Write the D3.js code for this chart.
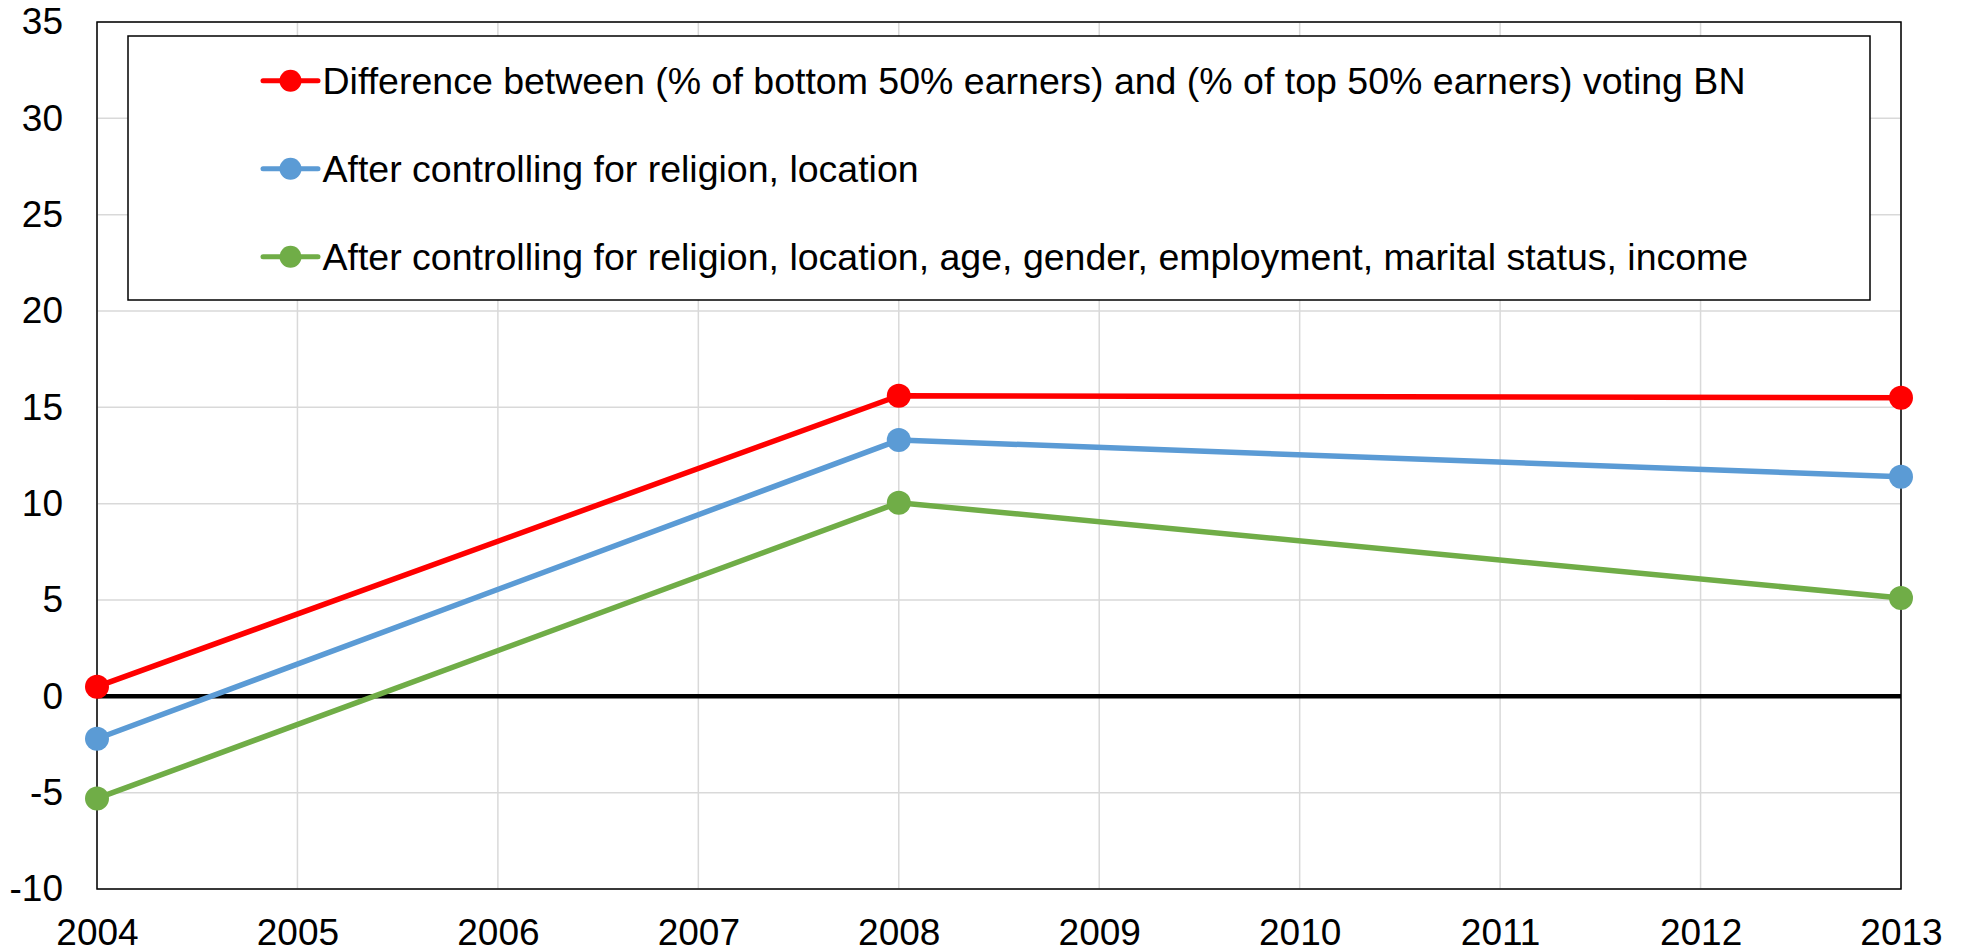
<!DOCTYPE html>
<html>
<head>
<meta charset="utf-8">
<script src="https://cdn.jsdelivr.net/npm/d3@7"></script>
<style>
  body { margin: 0; background: #fff; }
  text { font-family: "Liberation Sans", Arial, sans-serif; fill: #000; }
</style>
</head>
<body>
<div id="my_dataviz"></div>
<script>
// DATA ===========================================================================================
const years = [2004, 2008, 2013]
const diffRaw = [0.5, 15.6, 15.5]
const diffReligionLocation = [-2.2, 13.3, 11.4]
const diffAllControls = [-5.3, 10.05, 5.1]
const seriesNames = [
  'Difference between (% of bottom 50% earners) and (% of top 50% earners) voting BN',
  'After controlling for religion, location',
  'After controlling for religion, location, age, gender, employment, marital status, income'
]
const seriesColors = ['#ff0000', '#5b9bd5', '#70ad47']
const xTicks = d3.range(2004, 2014)
const yTicks = d3.range(-10, 36, 5)

const series = [diffRaw, diffReligionLocation, diffAllControls].map((vals, i) => ({
  name: seriesNames[i],
  color: seriesColors[i],
  values: vals.map((v, j) => ({year: years[j], value: v}))
}))

// SET UP =========================================================================================
const width = 1964
const height = 952
const margin = {top: 22, bottom: 63, left: 97, right: 63}
const ctr_width = width - margin.left - margin.right
const ctr_height = height - margin.top - margin.bottom

const svg = d3.select('#my_dataviz')
  .append('svg')
  .attr('width', width)
  .attr('height', height)
  .append('g')
  .attr('transform', `translate(${margin.left}, ${margin.top})`)

// SCALES AND AXES ================================================================================
const x = d3.scaleLinear().domain([2004, 2013]).range([0, ctr_width])
const y = d3.scaleLinear().domain([-10, 35]).range([ctr_height, 0])

// grid
svg.append('g')
  .selectAll('line.h')
  .data(yTicks)
  .join('line')
  .attr('x1', 0).attr('x2', ctr_width)
  .attr('y1', d => y(d)).attr('y2', d => y(d))
  .attr('stroke', '#d9d9d9').attr('stroke-width', 1.5)
svg.append('g')
  .selectAll('line.v')
  .data(xTicks)
  .join('line')
  .attr('x1', d => x(d)).attr('x2', d => x(d))
  .attr('y1', 0).attr('y2', ctr_height)
  .attr('stroke', '#d9d9d9').attr('stroke-width', 1.5)

// plot border
svg.append('rect')
  .attr('width', ctr_width).attr('height', ctr_height)
  .attr('fill', 'none').attr('stroke', '#000').attr('stroke-width', 1.5)

const yAxis = svg.append('g')
  .call(d3.axisLeft(y).tickValues(yTicks).tickFormat(d => String(d)).tickSize(0).tickPadding(34))
yAxis.select('.domain').remove()
yAxis.selectAll('text').style('font-size', '37px').attr('font-family', null)

const xAxis = svg.append('g')
  .attr('transform', `translate(0, ${ctr_height})`)
  .call(d3.axisBottom(x).tickValues(xTicks).tickFormat(d3.format('d')).tickSize(0).tickPadding(30))
xAxis.select('.domain').remove()
xAxis.selectAll('text').style('font-size', '37px').attr('font-family', null)

// zero line
svg.append('line')
  .attr('x1', 0).attr('x2', ctr_width)
  .attr('y1', y(0)).attr('y2', y(0))
  .attr('stroke', '#000').attr('stroke-width', 4.5)

// MARKS ==========================================================================================
const line = d3.line().x(d => x(d.year)).y(d => y(d.value))

series.forEach(s => {
  svg.append('path')
    .datum(s.values)
    .attr('fill', 'none')
    .attr('stroke', s.color)
    .attr('stroke-width', 5.5)
    .attr('stroke-linejoin', 'round')
    .attr('d', line)
  svg.append('g')
    .selectAll('circle')
    .data(s.values)
    .join('circle')
    .attr('cx', d => x(d.year))
    .attr('cy', d => y(d.value))
    .attr('r', 12)
    .attr('fill', s.color)
})

// LEGEND =========================================================================================
const legend = svg.append('g').attr('transform', `translate(${128 - margin.left}, ${36 - margin.top})`)
legend.append('rect')
  .attr('width', 1742).attr('height', 264)
  .attr('fill', '#fff').attr('stroke', '#000').attr('stroke-width', 1.5)

const rows = legend.selectAll('g.row')
  .data(series)
  .join('g')
  .attr('transform', (d, i) => `translate(0, ${44.7 + i * 88})`)
rows.append('line')
  .attr('x1', 135).attr('x2', 190)
  .attr('stroke', d => d.color).attr('stroke-width', 5).attr('stroke-linecap', 'round')
rows.append('circle')
  .attr('cx', 162.5).attr('r', 11)
  .attr('fill', d => d.color)
rows.append('text')
  .attr('x', 194.5)
  .attr('dy', '0.35em')
  .style('font-size', '37.5px')
  .text(d => d.name)
</script>
</body>
</html>
